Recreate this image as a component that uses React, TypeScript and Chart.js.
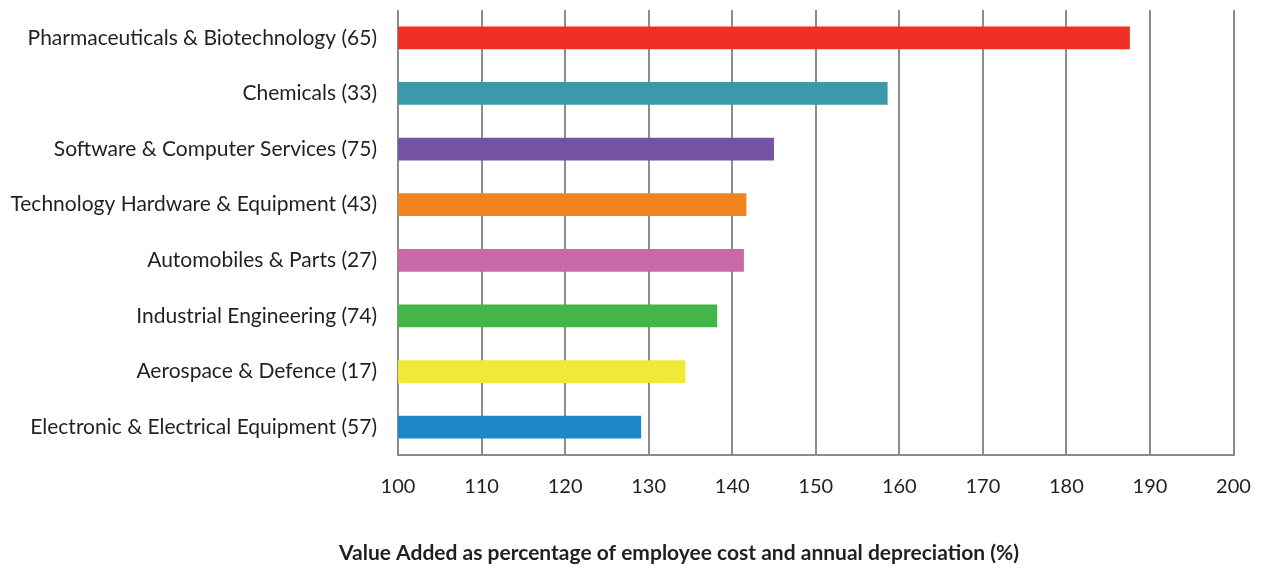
import React, { useEffect, useRef } from "react";
import { Chart, registerables } from "chart.js";

Chart.register(...registerables);

const sectors = [
  "Pharmaceuticals & Biotechnology (65)",
  "Chemicals (33)",
  "Software & Computer Services (75)",
  "Technology Hardware & Equipment (43)",
  "Automobiles & Parts (27)",
  "Industrial Engineering (74)",
  "Aerospace & Defence (17)",
  "Electronic & Electrical Equipment (57)",
];

const valueAdded = [187.6, 158.6, 145.0, 141.7, 141.4, 138.2, 134.4, 129.1];

const barColors = [
  "#EE3124",
  "#3C98AA",
  "#7353A2",
  "#EF8421",
  "#C969A8",
  "#43B649",
  "#F0E938",
  "#1D87C8",
];

const xTitle = "Value Added as percentage of employee cost and annual depreciation (%)";

const FONT = "Lato";

// Axis caption drawn under the tick labels, centred on the figure.
const captionPlugin = {
  id: "caption",
  afterDraw(chart: any) {
    const ctx = chart.ctx;
    ctx.save();
    ctx.fillStyle = "#231F20";
    ctx.font = `bold 21px ${FONT}`;
    ctx.textAlign = "center";
    ctx.textBaseline = "middle";
    ctx.fillText(xTitle, 679, 553);
    ctx.restore();
  },
};

export default function App() {
  const canvasRef = useRef<HTMLCanvasElement | null>(null);

  useEffect(() => {
    if (!canvasRef.current) return;
    const chart = new Chart(canvasRef.current, {
      type: "bar",
      data: {
        labels: sectors,
        datasets: [
          {
            data: valueAdded,
            backgroundColor: barColors,
            borderWidth: 0,
            barPercentage: 0.41,
            categoryPercentage: 1,
          },
        ],
      },
      options: {
        indexAxis: "y",
        animation: false,
        responsive: true,
        maintainAspectRatio: false,
        layout: { padding: { top: 10, right: 29.5, bottom: 2, left: 0 } },
        plugins: { legend: { display: false }, tooltip: { enabled: false } },
        scales: {
          x: {
            min: 100,
            max: 200,
            ticks: {
              stepSize: 10,
              padding: 20,
              color: "#231F20",
              font: { family: FONT, size: 20 },
            },
            grid: { color: "#8c8c8c", lineWidth: 2, drawTicks: false },
            border: { color: "#8c8c8c", width: 2 },
            afterFit: (scale: any) => {
              scale.height = 112;
              scale.paddingLeft = 0;
              scale.paddingRight = 0;
            },
          },
          y: {
            ticks: {
              padding: 21,
              color: "#231F20",
              font: { family: FONT, size: 21 },
            },
            grid: { display: false, drawTicks: false },
            border: { display: false },
            afterFit: (scale: any) => {
              scale.width = 398;
              scale.paddingTop = 0;
              scale.paddingBottom = 0;
            },
          },
        },
      },
      plugins: [captionPlugin],
    });
    return () => chart.destroy();
  }, []);

  return (
    <div style={{ position: "fixed", left: 0, top: 0, width: 1263, height: 569, background: "#fff" }}>
      <canvas ref={canvasRef} />
    </div>
  );
}
